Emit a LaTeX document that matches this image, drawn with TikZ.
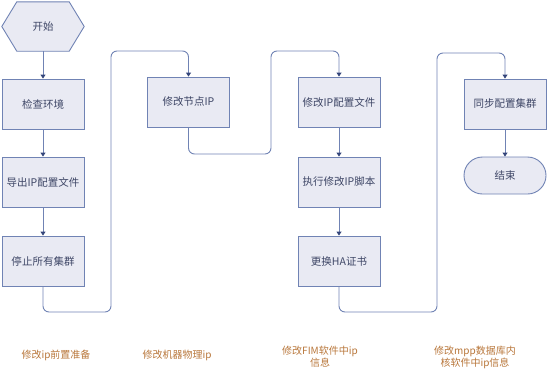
\documentclass[tikz,border=0pt]{standalone}
\usepackage{fontspec}
\setmainfont{Noto Sans CJK SC}
\usetikzlibrary{arrows.meta,shapes.misc}
\definecolor{boxfill}{HTML}{E9EAF3}
\definecolor{boxline}{HTML}{7083B4}
\definecolor{txt}{HTML}{3E4666}
\definecolor{lbl}{HTML}{B8763A}
\definecolor{tipc}{HTML}{34457A}
\tikzset{
  stepbox/.style={draw=boxline, fill=boxfill, line width=0.9pt, minimum width=82pt, minimum height=50pt, inner sep=0pt, text=txt, font=\fontsize{10.5pt}{12pt}\selectfont},
  endbox/.style={stepbox, rounded rectangle, minimum height=37pt},
  conn/.style={draw=boxline, line width=0.9pt, rounded corners=6pt, -{Triangle[length=4pt,width=5pt,color=tipc]}},
  lbltext/.style={text=lbl, font=\fontsize{10pt}{12pt}\selectfont, align=center, inner sep=0pt}
}
\begin{document}
\begin{tikzpicture}[x=1pt,y=-1pt]
\useasboundingbox (0,0) rectangle (554,381);
% start hexagon
\node[minimum width=82pt, minimum height=49pt, inner sep=0pt] (start) at (43,26.5) {};
\draw[draw=boxline, fill=boxfill, line width=0.9pt] (start.west) -- ([xshift=15pt]start.north west) -- ([xshift=-15pt]start.north east) -- (start.east) -- ([xshift=-15pt]start.south east) -- ([xshift=15pt]start.south west) -- cycle;
\node[text=txt, font=\fontsize{10.5pt}{12pt}\selectfont] (starttext) at (start.center) {开始};
% column 1
\node[stepbox] (check) at (43,104) {检查环境};
\node[stepbox] (export) at (43,182) {导出IP配置文件};
\node[stepbox] (stop) at (43,261) {停止所有集群};
% column 2
\node[stepbox] (nodeip) at (188.5,102) {修改节点IP};
% column 3
\node[stepbox] (cfg) at (339,102) {修改IP配置文件};
\node[stepbox] (script) at (339,182) {执行修改IP脚本};
\node[stepbox] (ha) at (339,261) {更换HA证书};
% column 4
\node[stepbox] (sync) at (505,104) {同步配置集群};
\node[endbox] (end) at (505,175.5) {结束};
% connectors
\draw[conn] (start.south) -- (check.north);
\draw[conn] (check.south) -- (export.north);
\draw[conn] (export.south) -- (stop.north);
\draw[conn] (stop.south) -- (43,312) -- (111,312) -- (111,51) -- (188.5,51) -- (nodeip.north);
\draw[conn] (nodeip.south) -- (188.5,154) -- (271,154) -- (271,51) -- (339,51) -- (cfg.north);
\draw[conn] (cfg.south) -- (script.north);
\draw[conn] (script.south) -- (ha.north);
\draw[conn] (ha.south) -- (339,312) -- (437,312) -- (437,53) -- (505,53) -- (sync.north);
\draw[conn] (sync.south) -- (end.north);
% labels
\node[lbltext] (l1) at (56,355) {修改ip前置准备};
\node[lbltext] (l2) at (177,355) {修改机器物理ip};
\node[lbltext] (l3) at (320,357) {修改FIM软件中ip\\信息};
\node[lbltext] (l4) at (475,357) {修改mpp数据库内\\核软件中ip信息};
\end{tikzpicture}
\end{document}
